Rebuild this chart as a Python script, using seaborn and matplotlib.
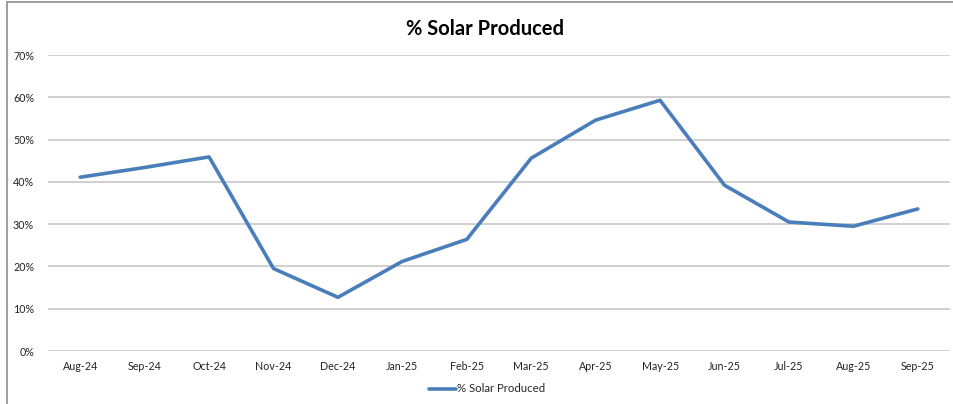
import numpy as np
import pandas as pd
import seaborn as sns
import matplotlib.pyplot as plt
from matplotlib.lines import Line2D
from matplotlib.ticker import PercentFormatter

# data
months = ['Aug-24', 'Sep-24', 'Oct-24', 'Nov-24', 'Dec-24', 'Jan-25', 'Feb-25',
          'Mar-25', 'Apr-25', 'May-25', 'Jun-25', 'Jul-25', 'Aug-25', 'Sep-25']
solar_pct = [41.1, 43.4, 45.9, 19.5, 12.7, 21.2, 26.4,
             45.6, 54.6, 59.3, 39.2, 30.5, 29.5, 33.6]

df = pd.DataFrame({'month': months, 'pct': solar_pct})

sns.set_style('white')
plt.rcParams['font.family'] = ['Lato', 'DejaVu Sans']

fig = plt.figure(figsize=(9.54, 4.04), dpi=100)
ax = fig.add_axes([48/954, 1-351/404, 902/954, 296/404])

sns.lineplot(data=df, x='month', y='pct', ax=ax, color='#4a7ebb', linewidth=2.6,
             sort=False, label='% Solar Produced')

ax.set_xlim(-0.5, len(months) - 0.5)
ax.set_ylim(0, 70)
ax.set_yticks(np.arange(0, 71, 10))
ax.yaxis.set_major_formatter(PercentFormatter(decimals=0))
ax.grid(axis='y', color='#c8c8c8', linewidth=1.2)
ax.set_axisbelow(True)
for s in ax.spines.values():
    s.set_visible(False)
ax.tick_params(axis='both', length=0, labelsize=7.7, colors='#222222')
ax.tick_params(axis='x', pad=7)
ax.tick_params(axis='y', pad=10)
ax.set_xlabel('')
ax.set_ylabel('')

fig.suptitle('% Solar Produced', x=485/954, y=1-29/404, va='center',
             fontsize=14.5, fontweight='bold', color='black')

leg = ax.legend(loc='center', bbox_to_anchor=(487/954, 1-389/404),
                bbox_transform=fig.transFigure, frameon=False, fontsize=8.2,
                handlelength=2.4, handletextpad=0.1)

# outer chart frame (left and top edges visible)
fig.add_artist(Line2D([7/954, 7/954], [0, 1-2/404], transform=fig.transFigure,
                      color='#8c8c8c', linewidth=1.2))
fig.add_artist(Line2D([7/954, 1], [1-2/404, 1-2/404], transform=fig.transFigure,
                      color='#8c8c8c', linewidth=1.2))

fig.savefig('out.png', dpi=100)
